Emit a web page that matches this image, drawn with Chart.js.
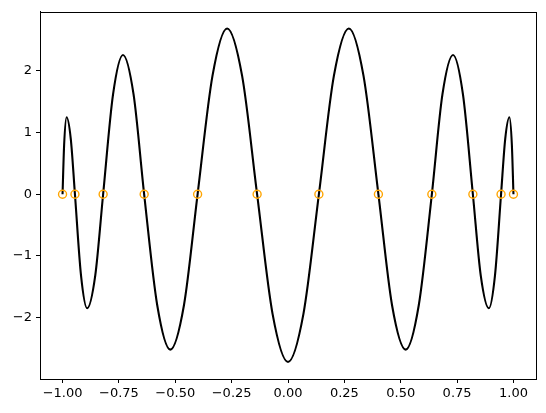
<!DOCTYPE html>
<html>
<head>
<meta charset="utf-8">
<script src="https://cdn.jsdelivr.net/npm/chart.js@4.4.1/dist/chart.umd.min.js"></script>
<style>
  html, body { margin: 0; padding: 0; background: #fff; }
  #wrap { width: 546px; height: 413px; }
</style>
</head>
<body>
<div id="wrap"><canvas id="chart" width="546" height="413"></canvas></div>
<script>
// values
const curveX = [-1, -0.993, -0.982, -0.9635, -0.945, -0.918, -0.891, -0.855, -0.820, -0.776, -0.732, -0.685, -0.638,
    -0.580, -0.522, -0.4615, -0.401, -0.335, -0.270, -0.2035, -0.137, -0.0685, 0,
    0.0685, 0.137, 0.2035, 0.270, 0.335, 0.401, 0.4615, 0.522, 0.580, 0.638, 0.685, 0.732,
    0.776, 0.820, 0.855, 0.891, 0.918, 0.945, 0.9635, 0.982, 0.993, 1];
const curveY = [0, 0.80, 1.25, 0.90, 0, -1.32, -1.85, -1.32, 0, 1.62, 2.26, 1.62, 0,
    -1.80, -2.52, -1.80, 0, 1.92, 2.69, 1.92, 0, -1.94, -2.72,
    -1.94, 0, 1.92, 2.69, 1.92, 0, -1.80, -2.52, -1.80, 0, 1.62, 2.26,
    1.62, 0, -1.32, -1.85, -1.32, 0, 0.90, 1.25, 0.80, 0];

const nodeX = [-1, -0.945, -0.820, -0.638, -0.401, -0.137, 0.137, 0.401, 0.638, 0.820, 0.945, 1];
const nodeY = [0, 0, 0, 0, 0, 0, 0, 0, 0, 0, 0, 0];

const xTicks = [-1, -0.75, -0.5, -0.25, 0, 0.25, 0.5, 0.75, 1];
const yTicks = [-2, -1, 0, 1, 2];

const fmt = (v, d) => v.toFixed(d).replace('-', '\u2212');

// matplotlib style frame round the axes
const frame = {
    id: 'frame',
    afterDraw(chart) {
        const a = chart.chartArea;
        const ctx = chart.ctx;
        ctx.save();
        ctx.strokeStyle = '#000';
        ctx.lineWidth = 1;
        ctx.strokeRect(Math.round(a.left) + 0.5, Math.round(a.top) + 0.5,
            Math.round(a.right - a.left), Math.round(a.bottom - a.top));
        ctx.restore();
    }
};

const ctx = document.getElementById('chart').getContext('2d');
new Chart(ctx, {
    type: 'scatter',
    data: {
        datasets: [{
            data: curveX.map((x, i) => ({ x: x, y: curveY[i] })),
            showLine: true,
            borderColor: '#000',
            borderWidth: 2.1,
            pointRadius: 0,
            cubicInterpolationMode: 'monotone',
            order: 2
        }, {
            data: nodeX.map((x, i) => ({ x: x, y: nodeY[i] })),
            showLine: false,
            pointStyle: 'circle',
            pointRadius: 4,
            borderColor: '#ffa500',
            backgroundColor: 'rgba(0,0,0,0)',
            borderWidth: 1.4,
            order: 1
        }]
    },
    options: {
        responsive: false,
        animation: false,
        layout: { padding: { left: 0, right: 10, top: 9, bottom: 0 } },
        plugins: { legend: { display: false }, tooltip: { enabled: false } },
        scales: {
            x: {
                type: 'linear',
                min: -1.1,
                max: 1.1,
                afterBuildTicks: s => { s.ticks = xTicks.map(v => ({ value: v })); },
                afterFit: s => { s.height = 34; },
                grid: { drawOnChartArea: false, tickLength: 4, tickColor: '#000' },
                border: { display: true, color: '#000' },
                ticks: {
                    autoSkip: false,
                    maxRotation: 0,
                    padding: 3,
                    color: '#000',
                    font: { family: 'DejaVu Sans', size: 13 },
                    callback: v => fmt(v, 2)
                }
            },
            y: {
                type: 'linear',
                min: -2.997,
                max: 2.96,
                afterBuildTicks: s => { s.ticks = yTicks.map(v => ({ value: v })); },
                afterFit: s => { s.width = 40; },
                grid: { drawOnChartArea: false, tickLength: 4, tickColor: '#000' },
                border: { display: true, color: '#000' },
                ticks: {
                    autoSkip: false,
                    padding: 4,
                    color: '#000',
                    font: { family: 'DejaVu Sans', size: 13 },
                    callback: v => fmt(v, 0)
                }
            }
        }
    },
    plugins: [frame]
});
</script>
</body>
</html>
